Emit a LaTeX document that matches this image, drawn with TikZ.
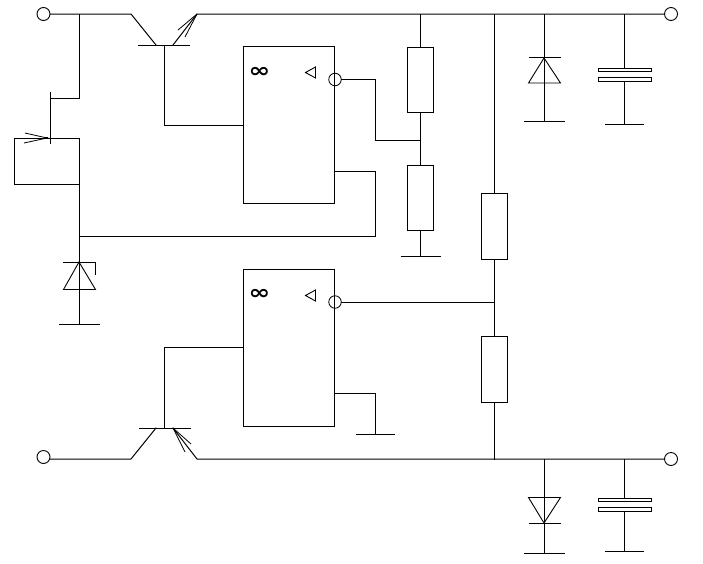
\documentclass[tikz,border=0pt]{standalone}
\usepackage{fontspec}
\newfontfamily\symfont{DejaVu Sans Bold}
\newcommand{\infmark}{\scalebox{1.3}[1]{\symfont\fontsize{20}{20}\selectfont ∞}}
\tikzset{
  wire/.style={line width=1pt,line cap=rect,black},
  thin wire/.style={line width=0.8pt,black},
  terminal/.style={draw,circle,line width=0.9pt,minimum size=13pt,inner sep=0pt},
  invmark/.style={draw,circle,line width=0.8pt,minimum size=12.5pt,inner sep=0pt},
  amp/.style={draw,line width=1pt,minimum width=91pt,minimum height=157pt,inner sep=0pt},
  res/.style={draw,line width=1pt,minimum width=26pt,minimum height=65.5pt,inner sep=0pt,fill=white},
  plate/.style={draw,line width=1pt,minimum width=53pt,minimum height=3.6pt,inner sep=0pt,fill=white},
  inf/.style={inner sep=0pt},
  diode/.style={line width=0.9pt,line join=miter}
}
\begin{document}
\begin{tikzpicture}[x=1pt,y=-1pt]
\useasboundingbox (0,0) rectangle (703,563);
% named parts
\node[terminal] (tl) at (43.5,14) {};
\node[terminal] (tr) at (671,14) {};
\node[terminal] (bl) at (43.5,457) {};
\node[terminal] (br) at (671,459) {};
\node[amp] (a1) at (288.5,124.5) {};
\node[amp] (a2) at (288.5,347.5) {};
\node[inf] (i1) at (259.5,72) {\infmark};
\node[inf] (i2) at (259.5,294.5) {\infmark};
\node[invmark] (m1) at (335,79.5) {};
\node[invmark] (m2) at (335,302) {};
\node[res] (r1) at (420.5,80) {};
\node[res] (r2) at (420.5,198) {};
\node[res] (r3) at (494,226.5) {};
\node[res] (r4) at (494,369.5) {};
\coordinate (jt) at (79,14);
\coordinate (ct1) at (131,14);
\coordinate (et1) at (197,14);
\coordinate (bt1) at (164,45);
\coordinate (ct2) at (131,459);
\coordinate (et2) at (197,459);
\coordinate (bt2) at (164,428);
% top rail
\draw[wire] (tl) -- (ct1) -- (156,45);
\draw[wire] (173,45) -- (et1) -- (tr);
\draw[wire] (138,45) -- (189,45);
\draw[wire] (bt1) |- (a1.west |- 0,125);
\draw[thin wire] (et1) -- (178,30);
\draw[thin wire] (et1) -- (185,37);
% JFET
\draw[wire] (jt) |- (50,98);
\draw[wire] (50,92) -- (50,143);
\draw[wire] (50,138) -- (79,138);
\draw[wire] (79,138) -- (79,324);
\draw[wire] (79,184) -- (14,184) -- (14,138) -- (50,138);
\draw[thin wire] (25,133) -- (47,138) -- (24,143);
\draw[line width=2pt] (44,138) -- (48,138);
% zener
\draw[wire] (63,262) -- (95,262) -- (95,274);
\draw[diode] (79,262) -- (63.5,289.5) -- (95.5,289.5) -- cycle;
\draw[wire] (59,324) -- (99,324);
% amp 1 output and feedback
\draw[wire] (m1) -| (375,140) -- (420.5,140);
\draw[wire] (a1.east |- 0,171) -| (375,236) -- (79,236);
% resistors upper
\draw[wire] (420.5,14) -- (r1.north);
\draw[wire] (r1.south) -- (r2.north);
\draw[wire] (r2.south) -- (420.5,256);
\draw[wire] (401,256) -- (440,256);
% divider
\draw[wire] (494,14) -- (r3.north);
\draw[wire] (r3.south) -- (r4.north);
\draw[wire] (r4.south) -- (494,459);
\draw[wire] (m2) -- (494,302);
% triangles on amps
\draw[diode] (305.5,72.5) -- (315.5,67) -- (315.5,78) -- cycle;
\draw[diode] (305.5,295.5) -- (315.5,290) -- (315.5,301) -- cycle;
% amp 2
\draw[wire] (a2.west |- 0,347) -| (bt2);
\draw[wire] (a2.east |- 0,393) -| (375,434);
\draw[wire] (356,434) -- (394,434);
% lower transistor
\draw[wire] (139,428) -- (190,428);
\draw[wire] (bl.east |- ct2) -- (ct2) -- (156,428);
\draw[wire] (173,428) -- (et2) -- (br);
\draw[thin wire] (173,428) -- (191,444);
\draw[thin wire] (173,428) -- (185,452);
% upper diode and capacitor
\draw[wire] (544,14) -- (544,121);
\draw[wire] (529,57) -- (560,57);
\draw[diode] (544,58) -- (528.5,83) -- (560.5,83) -- cycle;
\draw[wire] (524,121) -- (564,121);
\node[plate] (c1a) at (624.5,70) {};
\node[plate] (c1b) at (624.5,79.5) {};
\draw[wire] (624.5,14) -- (c1a);
\draw[wire] (c1b) -- (624.5,124);
\draw[wire] (605,124) -- (643,124);
% lower diode and capacitor
\draw[wire] (544,459) -- (544,553);
\draw[wire] (529,523) -- (560,523);
\draw[diode] (528.5,497.5) -- (560.5,497.5) -- (544,523) -- cycle;
\draw[wire] (524,553) -- (564,553);
\node[plate] (c2a) at (624.5,500) {};
\node[plate] (c2b) at (624.5,509.5) {};
\draw[wire] (624.5,459) -- (c2a);
\draw[wire] (c2b) -- (624.5,551);
\draw[wire] (605,551) -- (643,551);
\end{tikzpicture}
\end{document}
